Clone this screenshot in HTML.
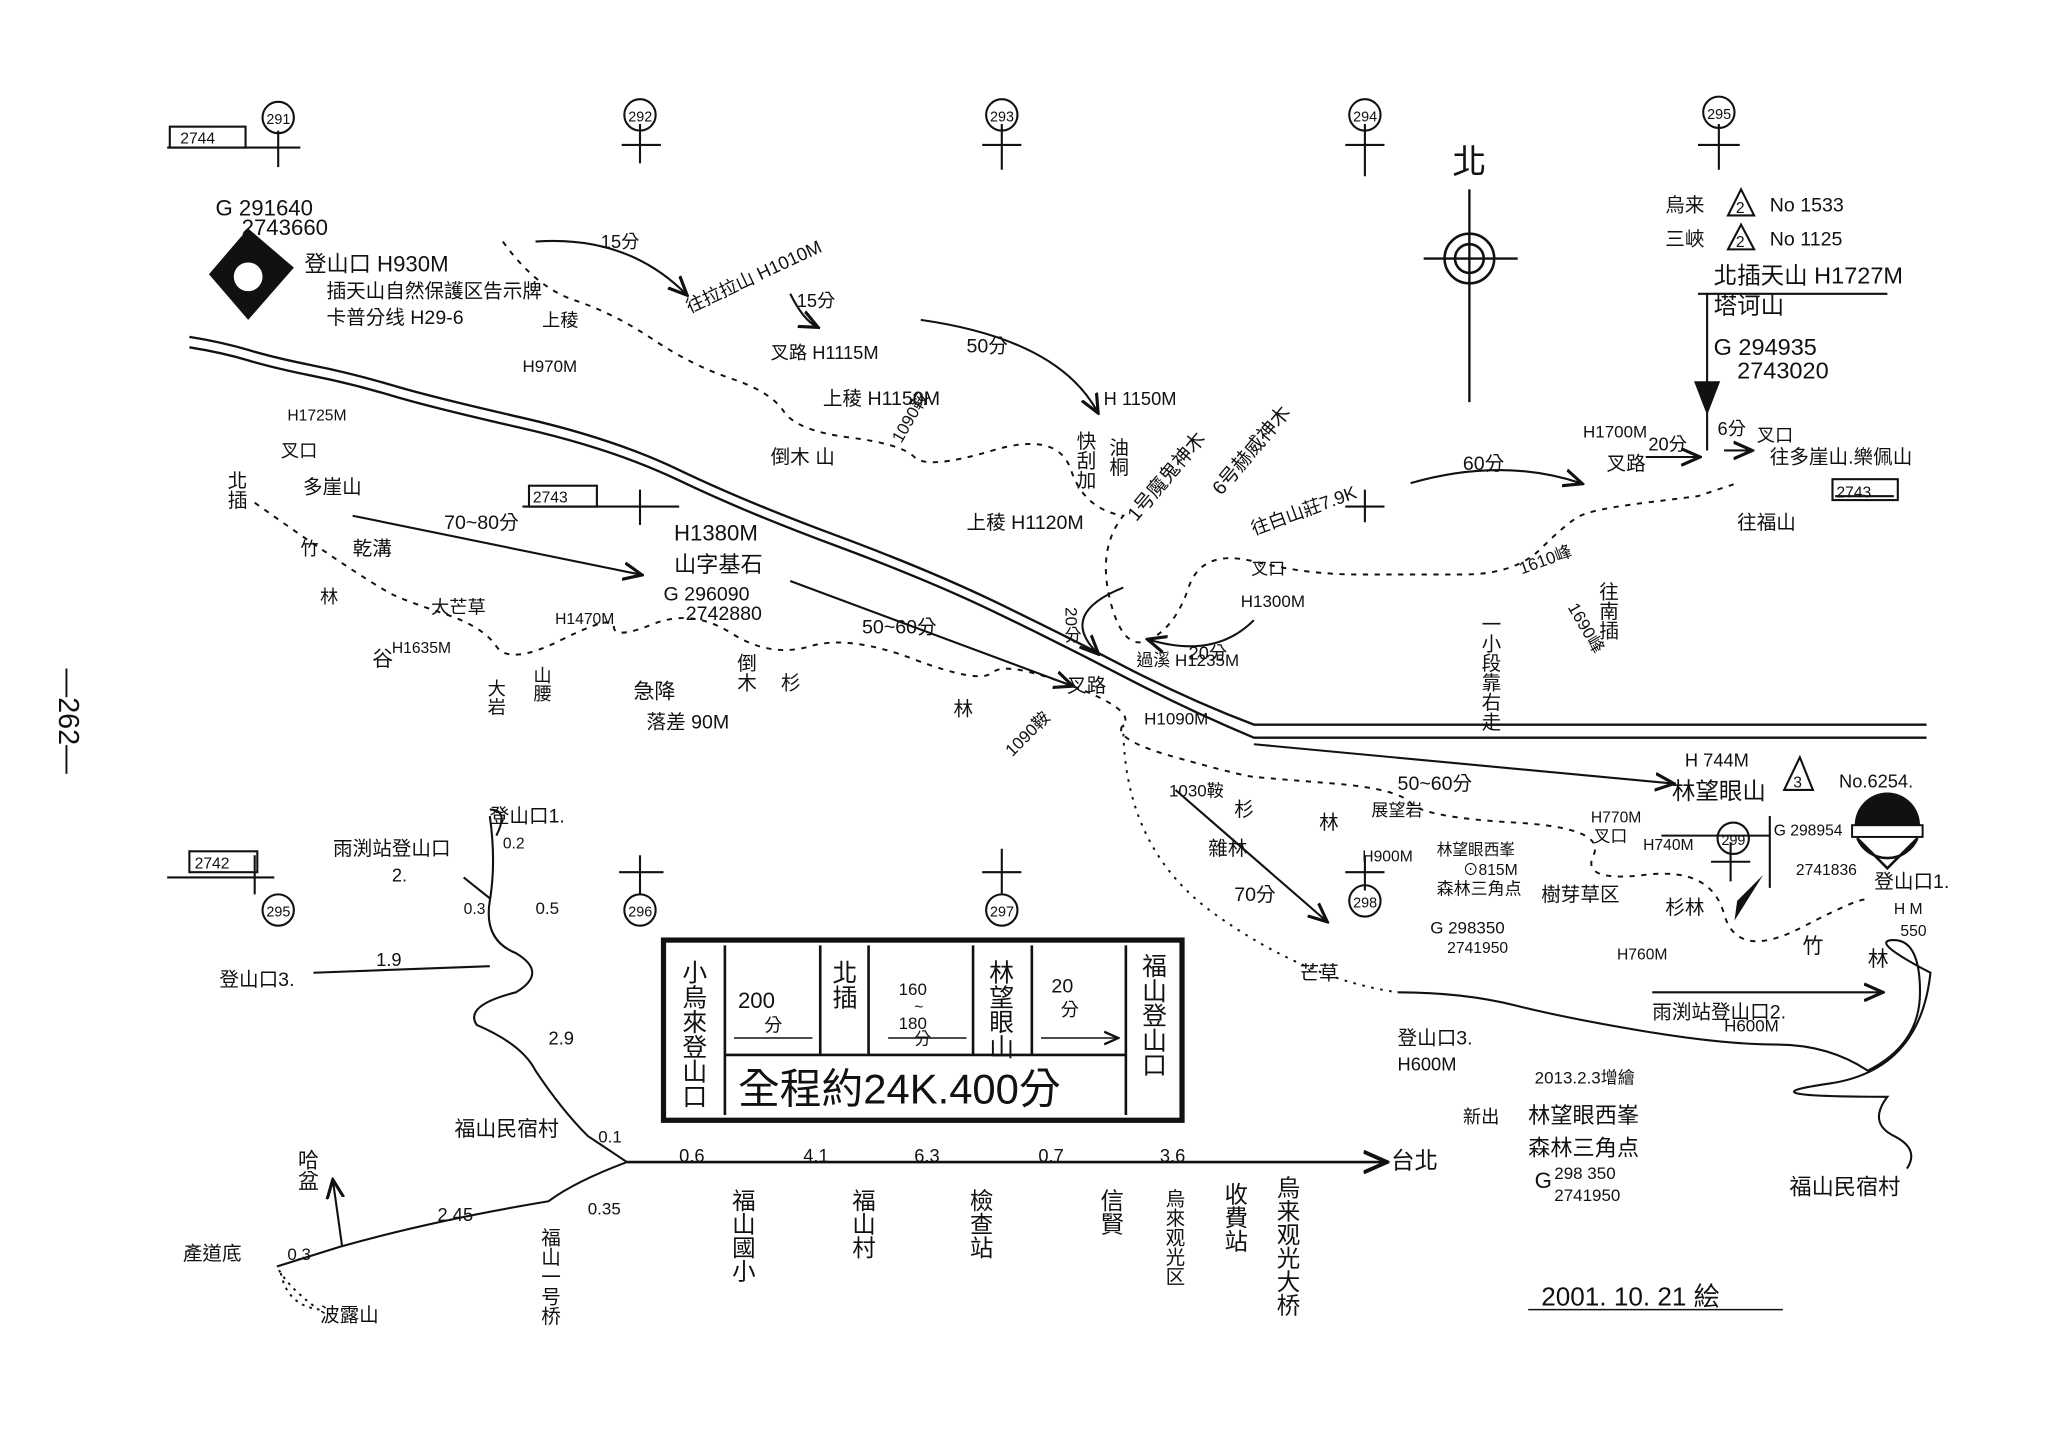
<!DOCTYPE html>
<html><head><meta charset="utf-8"><style>
html,body{margin:0;padding:0;background:#fff;}
svg{display:block;}
text{font-family:"Liberation Sans","Noto Sans CJK TC","Noto Sans CJK SC",sans-serif;fill:#111;}
</style></head><body>
<svg width="2048" height="1448" viewBox="0 0 1568 1109" preserveAspectRatio="none" xmlns="http://www.w3.org/2000/svg">
<rect width="1568" height="1109" fill="#fff"/>
<defs><marker id="a" markerWidth="10" markerHeight="10" refX="8" refY="5" orient="auto"><path d="M0,1 L9,5 L0,9" fill="none" stroke="#111" stroke-width="1.5"/></marker></defs>
<g stroke="#111" fill="none" stroke-width="1.6">
<path d="M128,113 H230 M213,100 V128 M490,95 V125 M476,111 H506 M767,95 V130 M752,111 H782 M1045,95 V135 M1030,111 H1060 M1316,95 V130 M1300,111 H1332"/>
<rect x="130" y="97" width="58" height="16"/>
<circle cx="213" cy="90" r="12"/><circle cx="490" cy="88" r="12"/><circle cx="767" cy="88" r="12"/><circle cx="1045" cy="88" r="12"/><circle cx="1316" cy="86" r="12"/>
<path d="M400,388 H520 M490,375 V402 M1030,388 H1060 M1045,375 V400 M128,672 H210 M195,655 V685 M474,668 H508 M490,655 V685 M752,668 H782 M767,650 V685 M1030,668 H1060 M1045,655 V682 M1310,660 H1340 M1325,645 V675 M1405,380 H1450"/>
<rect x="405" y="372" width="52" height="16"/><rect x="145" y="652" width="52" height="16"/><rect x="1403" y="367" width="50" height="16"/>
<circle cx="213" cy="697" r="12"/><circle cx="490" cy="697" r="12"/><circle cx="767" cy="697" r="12"/><circle cx="1045" cy="690" r="12"/><circle cx="1327" cy="642" r="12"/>
<path d="M145,258 Q170,262 190,268 T240,280 T300,295 T400,320 T520,360 T640,410 T760,460 T860,510 T960,555 H1475" stroke-width="1.8"/>
<path d="M145,266 Q170,270 190,276 T240,288 T300,303 T400,328 T520,368 T640,418 T760,468 T860,518 T960,565 H1475" stroke-width="1.8"/>
<circle cx="1125" cy="198" r="19" stroke-width="2"/><circle cx="1125" cy="198" r="11" stroke-width="2"/>
<path d="M1125,145 V308 M1090,198 H1162" stroke-width="1.8"/>
<g stroke-dasharray="4,5" stroke-width="1.5">
<path d="M385,185 Q410,220 440,230 T500,260 T560,290 T600,315 T650,335 T700,350 T760,345 T820,360 T860,395 Q840,420 850,460 T880,490 T910,450 T960,430 T1040,440 T1120,440 T1180,420 T1210,395 T1260,385 T1300,380 T1330,370"/>
<path d="M195,385 Q230,410 260,430 T300,455 T340,470 T380,495 T430,490 T470,480 T500,478 T560,485 T620,495 T700,505 T760,515 T820,525 T860,555 T900,580 T960,595 T1020,600 T1080,615 T1160,630 T1220,655 T1260,670 T1320,700 T1380,710 T1430,690"/>
<path d="M860,555 Q860,650 930,700 T1070,760" stroke-dasharray="2,5"/>
<path d="M240,1000 Q220,985 212,970 M215,975 Q220,1000 245,1003" stroke-dasharray="2,4"/>
</g>
<path d="M1070,760 Q1120,760 1160,770 T1260,790 T1360,800 T1430,820 Q1470,800 1470,760 T1450,720 T1478,745 Q1470,820 1400,830 T1445,840 Q1430,860 1450,870 T1460,895"/>
<path d="M410,185 Q480,180 525,225" marker-end="url(#a)"/>
<path d="M605,225 Q615,245 625,250" marker-end="url(#a)"/>
<path d="M705,245 Q810,260 840,315" marker-end="url(#a)"/>
<path d="M1080,370 Q1150,350 1210,370" marker-end="url(#a)"/>
<path d="M1260,350 H1300" marker-end="url(#a)"/>
<path d="M1320,345 H1340" marker-end="url(#a)"/>
<path d="M270,395 L490,440" marker-end="url(#a)"/>
<path d="M605,445 L820,525" marker-end="url(#a)"/>
<path d="M960,570 L1280,600" marker-end="url(#a)"/>
<path d="M900,605 L1015,705" marker-end="url(#a)"/>
<path d="M960,475 Q930,505 880,490" marker-end="url(#a)"/>
<path d="M860,450 Q810,470 840,500" marker-end="url(#a)"/>
<path d="M1265,760 L1440,760" marker-end="url(#a)"/>
<path d="M1307,225 V345 M1300,225 H1445"/>
<path d="M1272,640 H1355 M1355,625 V680"/>
<path d="M480,890 H1060" stroke-width="2" marker-end="url(#a)"/>
<path d="M375,625 Q380,660 375,690 Q370,720 395,730 Q420,745 395,760 Q355,770 365,785 Q400,800 410,820 Q430,850 450,870 L480,890 Q440,905 420,920 Q330,935 260,955 L212,970"/>
<path d="M355,672 L375,688 M380,640 Q390,620 375,620"/>
<path d="M240,745 L375,740"/>
<path d="M262,955 L255,905" marker-end="url(#a)"/>
<rect x="508" y="720" width="397" height="138" stroke-width="4"/>
<path d="M555,724 V854 M628,724 V808 M665,724 V808 M745,724 V808 M790,724 V808 M862,724 V854 M555,808 H862" stroke-width="2"/>
<path d="M562,795 H622 M680,795 H740 M797,795 H855" marker-end="url(#a)" stroke-width="1.2"/>
<path d="M1333,145 L1343,165 L1323,165 Z M1333,172 L1343,191 L1323,191 Z M1378,580 L1388,605 L1366,605 Z"/>
</g>
<text x="1329" y="163" font-size="12">2</text><text x="1329" y="189" font-size="12">2</text><text x="1373" y="603" font-size="12">3</text>
<path d="M190,175 L225,205 L190,245 L160,210 Z" fill="#111"/>
<circle cx="190" cy="212" r="11" fill="#fff"/>
<path d="M1297,292 L1317,292 L1307,318 Z" fill="#111"/>
<path d="M1350,670 L1330,690 L1328,705 Z" fill="#111"/>
<path d="M1420,632 A25,25 0 0 1 1470,632 Z" fill="#111"/><path d="M1422,642 A25,25 0 0 0 1468,642 L1445,665 Z" fill="none" stroke="#111" stroke-width="2"/>
<rect x="1418" y="632" width="54" height="9" fill="#fff" stroke="#111" stroke-width="1.5"/>
<g font-size="17">
<text x="1112" y="133" font-size="26">北</text>
<text x="138" y="110" font-size="12">2744</text>
<text x="408" y="385" font-size="12">2743</text>
<text x="149" y="665" font-size="12">2742</text>
<text x="1406" y="381" font-size="12">2743</text>
<text x="204" y="95" font-size="11">291</text><text x="481" y="93" font-size="11">292</text><text x="758" y="93" font-size="11">293</text><text x="1036" y="93" font-size="11">294</text><text x="1307" y="91" font-size="11">295</text>
<text x="204" y="702" font-size="11">295</text><text x="481" y="702" font-size="11">296</text><text x="758" y="702" font-size="11">297</text><text x="1036" y="695" font-size="11">298</text><text x="1318" y="647" font-size="11">299</text>
<text x="165" y="165">G  291640</text><text x="185" y="180">2743660</text>
<text x="233" y="208">登山口 H930M</text>
<text x="250" y="228" font-size="15">插天山自然保護区告示牌</text>
<text x="250" y="248" font-size="15">卡普分线 H29-6</text>
<text x="460" y="190" font-size="14">15分</text>
<text x="528" y="240" font-size="14" transform="rotate(-25 528 240)">往拉拉山 H1010M</text>
<text x="610" y="235" font-size="14">15分</text>
<text x="590" y="275" font-size="14">叉路 H1115M</text>
<text x="415" y="250" font-size="14">上稜</text><text x="400" y="285" font-size="13">H970M</text>
<text x="630" y="310" font-size="15">上稜 H1150M</text>
<text x="590" y="355" font-size="15">倒木 山</text>
<text x="690" y="340" font-size="13" transform="rotate(-60 690 340)">1090鞍</text>
<text x="740" y="270" font-size="15">50分</text>
<text x="740" y="405" font-size="15">上稜 H1120M</text>
<text x="845" y="310" font-size="14">H 1150M</text>
<text x="855" y="335" font-size="15" writing-mode="tb">油桐</text>
<text x="830" y="330" font-size="15" writing-mode="tb">快刮加</text>
<text x="870" y="400" font-size="15" transform="rotate(-50 870 400)">1号魔鬼神木</text>
<text x="935" y="380" font-size="15" transform="rotate(-50 935 380)">6号赫威神木</text>
<text x="960" y="410" font-size="14" transform="rotate(-20 960 410)">往白山莊7.9K</text>
<text x="1120" y="360" font-size="15">60分</text>
<text x="1212" y="335" font-size="13">H1700M</text>
<text x="1230" y="360" font-size="15">叉路</text>
<text x="1262" y="345" font-size="14">20分</text><text x="1315" y="333" font-size="14">6分</text>
<text x="1345" y="338" font-size="14">叉口</text>
<text x="1355" y="355" font-size="15">往多崖山.樂佩山</text>
<text x="1330" y="405" font-size="15">往福山</text>
<text x="1275" y="162" font-size="15">烏来</text><text x="1355" y="162" font-size="15">No 1533</text>
<text x="1275" y="188" font-size="15">三峽</text><text x="1355" y="188" font-size="15">No 1125</text>
<text x="1312" y="217" font-size="18">北插天山 H1727M</text>
<text x="1312" y="240" font-size="18">塔诃山</text>
<text x="1312" y="272" font-size="18">G  294935</text>
<text x="1330" y="290" font-size="18">2743020</text>
<text x="1165" y="440" font-size="13" transform="rotate(-20 1165 440)">1610峰</text>
<text x="1200" y="465" font-size="13" transform="rotate(60 1200 465)">1690峰</text>
<text x="1230" y="445" font-size="15" writing-mode="tb">往南插</text>
<text x="1140" y="470" font-size="15" writing-mode="tb">一小段靠右走</text>
<text x="220" y="322" font-size="12">H1725M</text>
<text x="180" y="360" font-size="15" writing-mode="tb">北插</text>
<text x="215" y="350" font-size="14">叉口</text><text x="232" y="378" font-size="15">多崖山</text>
<text x="340" y="405" font-size="15">70~80分</text>
<text x="270" y="425" font-size="15">乾溝</text><text x="230" y="425" font-size="14">竹</text><text x="245" y="462" font-size="14">林</text>
<text x="330" y="470" font-size="14">大芒草</text>
<text x="285" y="510" font-size="16">谷</text><text x="300" y="500" font-size="12">H1635M</text>
<text x="380" y="520" font-size="14" writing-mode="tb">大岩</text><text x="415" y="510" font-size="14" writing-mode="tb">山腰</text>
<text x="425" y="478" font-size="12">H1470M</text>
<text x="516" y="414" font-size="17">H1380M</text>
<text x="516" y="438" font-size="17">山字基石</text>
<text x="508" y="460" font-size="15">G  296090</text><text x="525" y="475" font-size="15">2742880</text>
<text x="485" y="535" font-size="16">急降</text><text x="495" y="558" font-size="15">落差 90M</text>
<text x="570" y="500" font-size="15" writing-mode="tb">倒木</text>
<text x="598" y="528" font-size="15">杉</text>
<text x="660" y="485" font-size="15">50~60分</text>
<text x="730" y="548" font-size="15">林</text>
<text x="775" y="580" font-size="13" transform="rotate(-45 775 580)">1090鞍</text>
<text x="817" y="530" font-size="15">叉路</text><text x="876" y="555" font-size="13">H1090M</text>
<text x="820" y="465" font-size="13" writing-mode="tb">20分</text>
<text x="910" y="505" font-size="14">20分</text>
<text x="870" y="510" font-size="13">過溪 H1235M</text>
<text x="950" y="465" font-size="13">H1300M</text><text x="958" y="440" font-size="13">叉口</text>
<text x="895" y="610" font-size="13">1030鞍</text>
<text x="945" y="625" font-size="15">杉</text><text x="1010" y="635" font-size="15">林</text>
<text x="925" y="655" font-size="15">雜林</text><text x="945" y="690" font-size="15">70分</text>
<text x="995" y="750" font-size="15">芒草</text>
<text x="1070" y="605" font-size="15">50~60分</text>
<text x="1050" y="625" font-size="13">展望岩</text>
<text x="1043" y="660" font-size="12">H900M</text>
<text x="1120" y="670" font-size="12">⊙815M</text>
<text x="1100" y="655" font-size="12">林望眼西峯</text>
<text x="1100" y="685" font-size="13">森林三角点</text>
<text x="1095" y="715" font-size="13">G 298350</text><text x="1108" y="730" font-size="12">2741950</text>
<text x="1218" y="630" font-size="12">H770M</text><text x="1220" y="645" font-size="13">叉口</text>
<text x="1258" y="651" font-size="12">H740M</text>
<text x="1180" y="690" font-size="15">樹芽草区</text>
<text x="1275" y="700" font-size="15">杉林</text>
<text x="1238" y="735" font-size="12">H760M</text>
<text x="1290" y="587" font-size="14">H 744M</text>
<text x="1280" y="612" font-size="18">林望眼山</text>
<text x="1408" y="603" font-size="14">No.6254.</text>
<text x="1358" y="640" font-size="12">G  298954</text><text x="1375" y="670" font-size="12">2741836</text>
<text x="1435" y="680" font-size="15">登山口1.</text><text x="1450" y="700" font-size="12">H  M</text><text x="1455" y="717" font-size="12">550</text>
<text x="1380" y="730" font-size="16">竹</text><text x="1430" y="740" font-size="16">林</text>
<text x="1265" y="780" font-size="15">雨渕站登山口2.</text><text x="1320" y="790" font-size="13">H600M</text>
<text x="1070" y="800" font-size="15">登山口3.</text><text x="1070" y="820" font-size="14">H600M</text>
<text x="1175" y="830" font-size="13">2013.2.3增繪</text>
<text x="1120" y="860" font-size="14">新出</text>
<text x="1170" y="860" font-size="17">林望眼西峯</text>
<text x="1170" y="885" font-size="17">森林三角点</text>
<text x="1175" y="910" font-size="17">G</text><text x="1190" y="903" font-size="13">298 350</text><text x="1190" y="920" font-size="13">2741950</text>
<text x="1370" y="915" font-size="17">福山民宿村</text>
<text x="1180" y="1000" font-size="20">2001. 10. 21 絵</text>
<path d="M1170,1003 H1365" stroke="#111" stroke-width="1.2"/>
<text x="375" y="630" font-size="15">登山口1.</text><text x="385" y="650" font-size="12">0.2</text>
<text x="255" y="655" font-size="15">雨渕站登山口</text><text x="300" y="675" font-size="14">2.</text>
<text x="355" y="700" font-size="12">0.3</text><text x="410" y="700" font-size="13">0.5</text>
<text x="168" y="755" font-size="15">登山口3.</text><text x="288" y="740" font-size="14">1.9</text>
<text x="420" y="800" font-size="14">2.9</text>
<text x="348" y="870" font-size="16">福山民宿村</text>
<text x="458" y="875" font-size="13">0.1</text>
<text x="520" y="890" font-size="14">0.6</text><text x="615" y="890" font-size="14">4.1</text><text x="700" y="890" font-size="14">6.3</text><text x="795" y="890" font-size="14">0.7</text><text x="888" y="890" font-size="14">3.6</text>
<text x="1065" y="895" font-size="18">台北</text>
<text x="335" y="935" font-size="14">2.45</text><text x="450" y="930" font-size="13">0.35</text>
<text x="235" y="880" font-size="16" writing-mode="tb">哈盆</text>
<text x="140" y="965" font-size="15">產道底</text><text x="220" y="965" font-size="13">0.3</text>
<text x="245" y="1012" font-size="15">波露山</text>
<text x="420" y="940" font-size="15" writing-mode="tb">福山一号桥</text>
<g font-size="18" writing-mode="tb">
<text x="568" y="910">福山國小</text><text x="660" y="910">福山村</text><text x="750" y="910">檢查站</text><text x="850" y="910">信賢</text>
<text x="898" y="910" font-size="15">烏來观光区</text><text x="945" y="905">收費站</text><text x="985" y="900">烏来观光大桥</text>
</g>
<g font-size="19" writing-mode="tb">
<text x="530" y="735">小烏來登山口</text><text x="645" y="735">北插</text><text x="765" y="735">林望眼山</text><text x="882" y="730">福山登山口</text>
</g>
<text x="565" y="772" font-size="17">200</text><text x="585" y="790" font-size="14">分</text>
<text x="688" y="762" font-size="13">160</text><text x="700" y="775" font-size="12">~</text><text x="688" y="788" font-size="13">180</text><text x="700" y="800" font-size="13">分</text>
<text x="805" y="760" font-size="15">20</text><text x="812" y="778" font-size="14">分</text>
<text x="565" y="845" font-size="32">全程約24K.400分</text>
<text x="45" y="512" font-size="22" transform="rotate(90 45 512)">—262—</text>
</g>
</svg>
</body></html>
